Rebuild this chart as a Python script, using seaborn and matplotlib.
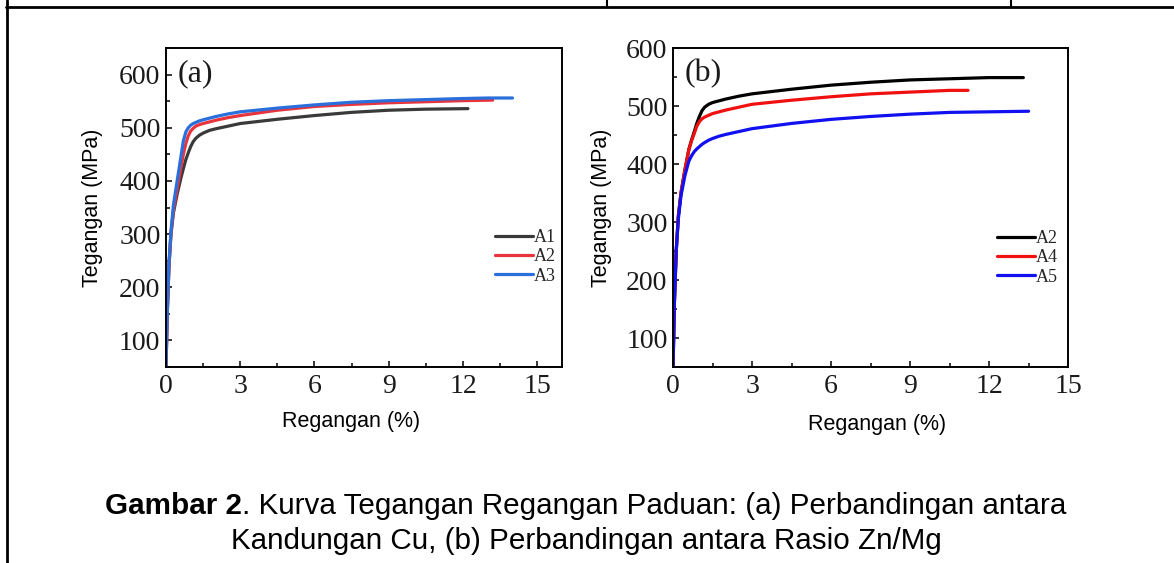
import numpy as np
import pandas as pd
import seaborn as sns
import matplotlib
matplotlib.use("Agg")
import matplotlib.pyplot as plt
from matplotlib.lines import Line2D
from matplotlib.ticker import MultipleLocator

# --- data (a): perbandingan kandungan Cu ---
a1_x = [0, 0.05, 0.12, 0.2, 0.3, 0.45, 0.6, 0.7, 0.8, 0.9, 1.0, 1.1, 1.2, 1.35, 1.5, 1.75, 2.0, 2.5,
        3.0, 4.5, 6.0, 7.5, 9.0, 10.5, 12.2]
a1_y = [50, 150, 240, 300, 340, 375, 405, 423, 440, 453, 465, 474, 480, 486, 490, 495, 498, 503,
        508, 516, 523, 529, 533, 535, 536]
a2_x = [0, 0.05, 0.12, 0.2, 0.3, 0.45, 0.6, 0.7, 0.8, 0.9, 1.0, 1.1, 1.2, 1.35, 1.5, 1.75, 2.0, 2.5,
        3.0, 4.5, 6.0, 7.5, 9.0, 10.5, 12.0, 13.2]
a2_y = [50, 150, 240, 300, 345, 385, 425, 450, 470, 485, 494, 499, 503, 506, 508, 511, 514, 519,
        523, 533, 540, 544, 547, 549, 551, 552]
a3_x = [0, 0.05, 0.12, 0.2, 0.3, 0.45, 0.6, 0.7, 0.8, 0.9, 1.0, 1.1, 1.2, 1.35, 1.5, 1.75, 2.0, 2.5,
        3.0, 4.5, 6.0, 7.5, 9.0, 10.5, 12.0, 13.0, 14.0]
a3_y = [50, 150, 245, 305, 355, 400, 445, 475, 492, 500, 505, 508, 510, 513, 515, 518, 521, 526,
        530, 537, 543, 548, 551, 553, 555, 556, 556]

# --- data (b): perbandingan rasio Zn/Mg ---
b2_x = [0, 0.05, 0.12, 0.2, 0.3, 0.45, 0.6, 0.7, 0.8, 0.9, 1.0, 1.1, 1.2, 1.35, 1.5, 1.75, 2.0, 2.5,
        3.0, 4.5, 6.0, 7.5, 9.0, 10.5, 12.0, 13.3]
b2_y = [50, 160, 250, 310, 350, 390, 425, 441, 455, 470, 482, 492, 498, 503, 506, 509, 512, 517,
        521, 529, 536, 541, 545, 547, 549, 549]
b4_x = [0, 0.05, 0.12, 0.2, 0.3, 0.45, 0.6, 0.7, 0.8, 0.9, 1.0, 1.1, 1.2, 1.35, 1.5, 1.75, 2.0, 2.5,
        3.0, 4.5, 6.0, 7.5, 9.0, 10.5, 11.2]
b4_y = [50, 160, 250, 310, 350, 390, 425, 440, 452, 465, 473, 478, 481, 484, 487, 490, 493, 498,
        503, 510, 516, 521, 524, 527, 527]
b5_x = [0, 0.05, 0.12, 0.2, 0.3, 0.45, 0.6, 0.7, 0.8, 0.9, 1.0, 1.1, 1.2, 1.35, 1.5, 1.75, 2.0, 2.5,
        3.0, 4.5, 6.0, 7.5, 9.0, 10.5, 12.0, 13.5]
b5_y = [50, 160, 250, 305, 345, 380, 405, 414, 421, 426, 430, 434, 437, 441, 444, 448, 451, 456,
        461, 470, 477, 482, 486, 489, 490, 491]

labels_a = ["A1", "A2", "A3"]
labels_b = ["A2", "A4", "A5"]
colors_a = ["#3a3a3a", "#e8343c", "#2a6fdb"]
colors_b = ["#000000", "#f01010", "#1010f0"]


def build(xs, ys, names):
    frames = []
    for x, y, n in zip(xs, ys, names):
        frames.append(pd.DataFrame({"Regangan": x, "Tegangan": y, "Sampel": n}))
    return pd.concat(frames, ignore_index=True)


df_a = build([a1_x, a2_x, a3_x], [a1_y, a2_y, a3_y], labels_a)
df_b = build([b2_x, b4_x, b5_x], [b2_y, b4_y, b5_y], labels_b)

sns.set_style("ticks")
plt.rcParams['font.family'] = ['Liberation Sans', 'DejaVu Sans']

fig = plt.figure(figsize=(11.74, 5.63), dpi=100)
ax_a = fig.add_axes([0.1414, 0.3481, 0.3373, 0.5666])
ax_b = fig.add_axes([0.5733, 0.3481, 0.3365, 0.5666])


def draw(ax, df, names, colors, xlim, ylim, tag, leg_xy, xlab_xy, ylab_x):
    sns.lineplot(data=df, x="Regangan", y="Tegangan", hue="Sampel", hue_order=names,
                 palette=dict(zip(names, colors)), sort=False, estimator=None,
                 linewidth=2.3, ax=ax)
    leg = ax.get_legend()
    handles = leg.legend_handles
    labs = [t.get_text() for t in leg.get_texts()]
    for h in handles:
        h.set_linewidth(2.3)
    ax.legend(handles, labs, loc="center left", bbox_to_anchor=leg_xy, frameon=False,
              handlelength=2.1, handletextpad=0.05, labelspacing=0.12, borderpad=0,
              prop={"family": "Liberation Serif", "size": 13})

    ax.set_xlim(*xlim)
    ax.set_ylim(*ylim)
    ax.xaxis.set_major_locator(MultipleLocator(3))
    ax.xaxis.set_minor_locator(MultipleLocator(1.5))
    ax.yaxis.set_major_locator(MultipleLocator(100))
    ax.yaxis.set_minor_locator(MultipleLocator(50))
    ax.tick_params(which="both", direction="in", top=False, right=False,
                   width=1.1, color="black", labelsize=20, labelcolor="#1a1a1a")
    ax.tick_params(which="major", length=4.5)
    ax.tick_params(which="minor", length=2.8)
    ax.tick_params(axis="x", pad=5)
    ax.tick_params(axis="y", pad=4)
    for lab in ax.get_xticklabels() + ax.get_yticklabels():
        lab.set_fontfamily("Liberation Serif")
    for s in ax.spines.values():
        s.set_visible(True)
        s.set_color("black")
        s.set_linewidth(1.4)

    ax.set_xlabel("Regangan (%)", fontsize=15.5, color="black")
    ax.set_ylabel("Tegangan (MPa)", fontsize=15.5, color="black")
    ax.xaxis.set_label_coords(*xlab_xy)
    ax.yaxis.set_label_coords(ylab_x, 0.5)
    ax.text(0.03, 0.92, tag, transform=ax.transAxes, fontsize=23,
            family="Liberation Serif", va="center", ha="left", color="#1a1a1a")


draw(ax_a, df_a, labels_a, colors_a, (0, 16), (50, 650), "(a)",
     (0.808, 0.345), (0.467, -0.138), -0.158)
draw(ax_b, df_b, labels_b, colors_b, (0, 15), (50, 600), "(b)",
     (0.797, 0.342), (0.516, -0.147), -0.155)

# page frame pieces around the figure
W, H = 1174, 563
fig.add_artist(Line2D([6 / W, 1], [1 - 6.5 / H, 1 - 6.5 / H], transform=fig.transFigure,
                      color="black", lw=2))
fig.add_artist(Line2D([6.5 / W, 6.5 / W], [0, 1], transform=fig.transFigure,
                      color="black", lw=2))
for xp in [607, 1011]:
    fig.add_artist(Line2D([xp / W, xp / W], [1 - 6.5 / H, 1], transform=fig.transFigure,
                          color="black", lw=1.5))

# caption (bold "Gambar 2" + regular rest)
cap_size = 21.3
y1 = 1 - 506 / H
y2 = 1 - 541 / H
fig.canvas.draw()
r = fig.canvas.get_renderer()
t_bold = fig.text(0, y1, "Gambar 2", weight="bold", fontsize=cap_size, va="center",
                  ha="left", color="black")
t_rest = fig.text(0, y1, ". Kurva Tegangan Regangan Paduan: (a) Perbandingan antara",
                  fontsize=cap_size, va="center", ha="left", color="black")
w1 = t_bold.get_window_extent(r).width
w2 = t_rest.get_window_extent(r).width
x0 = 586 - (w1 + w2) / 2
t_bold.set_x(x0 / W)
t_rest.set_x((x0 + w1) / W)
fig.text(586 / W, y2, "Kandungan Cu, (b) Perbandingan antara Rasio Zn/Mg",
         fontsize=cap_size, va="center", ha="center", color="black")

fig.savefig("out.png", dpi=100)
